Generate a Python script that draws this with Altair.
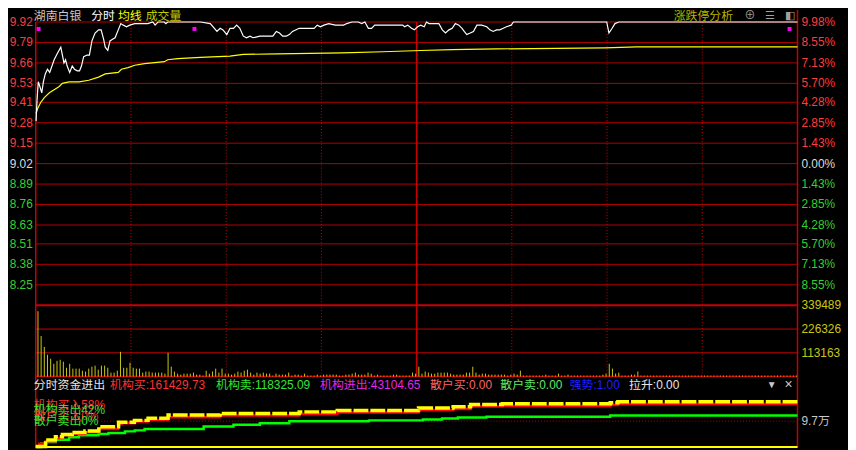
import altair as alt
import pandas as pd

FONT = "Liberation Sans, Noto Sans CJK SC, sans-serif"

# ---------------- data ----------------
PREV_CLOSE = 9.02

PRICE_T = [0.1, 0.4, 0.8, 1.3, 1.9, 2.4, 3.0, 3.7, 4.4, 5.8, 6.8, 7.9, 8.4, 8.9, 9.4, 9.9, 10.7, 11.5,
           12.2, 13.1, 13.8, 14.4, 15.1, 16.2, 16.9, 17.7, 18.7, 19.8, 20.6, 21.4, 21.9, 22.7, 23.4,
           24.2, 25.0, 26.0, 26.8, 27.6, 28.6, 29.6, 31.2, 34.3, 35.3, 36.9, 37.6, 38.5, 40.5, 41.0,
           41.6, 51.9, 55.0, 57.1, 58.1, 59.0, 60.2, 61.2, 62.3, 63.3, 64.3, 65.4, 66.4, 67.5, 68.5,
           70.6, 72.6, 74.7, 75.8, 76.8, 77.8, 78.9, 79.9, 80.9, 83.0, 84.6, 87.7, 88.7, 89.7, 90.8,
           92.3, 94.4, 97.0, 98.0, 99.6, 101.6, 102.7, 103.7, 104.8, 105.8, 106.8, 109.0, 112.0,
           113.1, 115.6, 116.2, 117.2, 118.4, 119.3, 120.3, 121.3, 122.4, 123.1, 123.9, 127.0, 128.1,
           129.1, 130.2, 131.2, 132.2, 133.3, 134.3, 135.0, 135.8, 136.9, 137.9, 139.0, 140.5, 142.1,
           143.1, 144.1, 145.2, 146.2, 147.3, 148.3, 149.8, 150.5, 179.9, 180.6, 181.6, 182.5, 183.7,
           240.0]
PRICE_V = [9.29, 9.42, 9.54, 9.51, 9.47, 9.54, 9.59, 9.62, 9.60, 9.68, 9.72, 9.76, 9.71, 9.66, 9.68,
           9.64, 9.60, 9.64, 9.62, 9.61, 9.61, 9.64, 9.70, 9.71, 9.71, 9.80, 9.85, 9.87, 9.87, 9.81,
           9.76, 9.74, 9.80, 9.81, 9.82, 9.87, 9.91, 9.90, 9.89, 9.90, 9.91, 9.91, 9.91, 9.92, 9.90,
           9.92, 9.92, 9.91, 9.92, 9.92, 9.91, 9.86, 9.88, 9.87, 9.84, 9.88, 9.88, 9.90, 9.88, 9.83,
           9.82, 9.83, 9.82, 9.83, 9.83, 9.83, 9.86, 9.85, 9.83, 9.83, 9.84, 9.86, 9.88, 9.88, 9.88,
           9.90, 9.89, 9.90, 9.91, 9.90, 9.90, 9.91, 9.92, 9.92, 9.91, 9.92, 9.88, 9.88, 9.90, 9.90,
           9.90, 9.90, 9.90, 9.89, 9.90, 9.88, 9.87, 9.89, 9.90, 9.89, 9.92, 9.91, 9.91, 9.87, 9.85,
           9.87, 9.88, 9.91, 9.90, 9.88, 9.86, 9.84, 9.85, 9.86, 9.90, 9.90, 9.89, 9.87, 9.86, 9.87,
           9.87, 9.88, 9.89, 9.90, 9.92, 9.92, 9.85, 9.88, 9.91, 9.92, 9.92]

AVG_T = [0.1, 0.6, 1.6, 2.7, 4.3, 5.8, 7.4, 8.4, 10.5, 13.6, 16.7, 19.8, 21.9, 26.0, 27.0, 29.1, 31.2,
         34.3, 37.4, 40.5, 41.6, 44.7, 51.9, 61.2, 65.4, 76.3, 96.5, 109.4, 121.3, 131.2, 145.2,
         179.4, 189.2, 240.0]
AVG_V = [9.34, 9.37, 9.41, 9.44, 9.47, 9.49, 9.51, 9.53, 9.54, 9.54, 9.55, 9.57, 9.59, 9.60, 9.62,
         9.63, 9.645, 9.656, 9.662, 9.668, 9.68, 9.687, 9.695, 9.703, 9.714, 9.718, 9.724, 9.731,
         9.739, 9.745, 9.749, 9.756, 9.762, 9.762]

VOLUME = [311000, 193000, 141000, 104000, 85000, 61000, 75000, 80000, 71000, 42000,
          61000, 38000, 38000, 38000, 28000, 24000, 38000, 47000, 52000, 33000,
          52000, 52000, 42000, 19000, 19000, 28000, 118000, 42000, 42000, 66000,
          42000, 38000, 38000, 19000, 24000, 24000, 19000, 19000, 19000, 19000,
          14000, 113000, 47000, 24000, 14000, 9400, 14000, 14000, 14000, 19000,
          9400, 9400, 4700, 28000, 14000, 24000, 38000, 19000, 38000, 14000,
          14000, 9400, 14000, 24000, 19000, 28000, 33000, 19000, 9400, 19000,
          14000, 19000, 14000, 14000, 4700, 14000, 9400, 9400, 9400, 19000,
          4700, 9400, 9400, 4700, 14000, 4700, 4700, 4700, 9400, 4700,
          9400, 9400, 9400, 9400, 9400, 4700, 4700, 9400, 9400, 14000,
          19000, 9400, 9400, 9400, 19000, 14000, 4700, 9400, 4700, 4700,
          4700, 4700, 9400, 9400, 4700, 4700, 4700, 4700, 19000, 14000,
          47000, 14000, 24000, 19000, 14000, 14000, 19000, 19000, 19000, 19000,
          14000, 9400, 9400, 9400, 9400, 19000, 19000, 47000, 19000, 9400,
          14000, 14000, 9400, 9400, 9400, 9400, 9400, 9400, 4700, 9400,
          14000, 9400, 28000, 4700, 4700, 4700, 4700, 4700, 4700, 4700,
          9400, 4700, 4700, 4700, 14000, 4700, 4700, 9400, 4700, 4700,
          4700, 4700, 4700, 4700, 4700, 4700, 4700, 4700, 9400, 14000,
          61000, 38000, 14000, 19000, 4700, 4700, 4700, 9400, 9400, 24000,
          4700, 4700, 4700, 4700, 4700, 4700, 4700, 4700, 4700, 4700,
          4700, 4700, 4700, 4700, 4700, 4700, 4700, 4700, 4700, 4700,
          4700, 4700, 4700, 4700, 4700, 4700, 4700, 4700, 4700, 4700,
          4700, 4700, 4700, 4700, 4700, 4700, 4700, 4700, 4700, 4700,
          4700, 4700, 4700, 4700, 4700, 4700, 4700, 4700, 4700, 4700]

GREEN_T = [0, 1.7, 3.2, 6.3, 10.5, 13.6, 19.8, 22.9, 28.1, 31.2, 34.3, 52.9, 62.3, 70.6, 79.9, 105,
           122, 128, 133, 142, 181, 240]
GREEN_V = [0, 12300, 18650, 27200, 36200, 43650, 48500, 52250, 58600, 62300, 67150, 77250, 83200,
           89550, 97000, 100000, 103500, 107000, 110500, 114000, 118325, 118325]
RED_T = [0, 1.1, 3.2, 6.3, 8.4, 11.5, 15.6, 19.8, 26, 27, 31.2, 35.3, 41.6, 58.1, 83, 95, 120.6,
         131.5, 137, 147, 181, 183.4, 240]
RED_V = [0, 12300, 21250, 33600, 43650, 48500, 54850, 67150, 85800, 89550, 95900, 101850, 111900,
         118300, 124250, 129450, 139150, 142900, 151850, 154100, 157800, 161430, 161430]
YEL_T = [0, 3.1, 6.2, 8.4, 11.5, 15.5, 19.9, 26.1, 31.1, 35.4, 41.7, 58.1, 83, 95, 120.6, 131.5,
         137, 147, 181, 183.4, 240]
YEL_V = [2000, 26000, 38000, 47000, 54000, 60000, 76000, 93000, 100000, 108000, 120000, 126000,
         132000, 137000, 147000, 151000, 160000, 163000, 166000, 170000, 170000]

PRICE_TICKS = [9.92, 9.79, 9.66, 9.53, 9.41, 9.28, 9.15, 9.02, 8.89, 8.76, 8.63, 8.51, 8.38, 8.25]
PCT_LABELS = ["9.98%", "8.55%", "7.13%", "5.70%", "4.28%", "2.85%", "1.43%", "0.00%",
              "1.43%", "2.85%", "4.28%", "5.70%", "7.13%", "8.55%"]
VOL_TICKS = [339489, 226326, 113163]
VOL_GRID = [339489, 226326, 113163, 0]
FUND_TICK = [97000]
FUND_LABEL = ["9.7万"]
HALF_HOURS = [30, 60, 90, 150, 180, 210]
MIDDAY = [120]
MARK_T = [0.9, 50, 237.5]
MARK_P = [9.876, 9.876, 9.876]

FUND_HEADER = ["分时资金进出", "机构买:161429.73", "机构卖:118325.09", "机构进出:43104.65",
               "散户买:0.00", "散户卖:0.00", "强势:1.00", "拉升:0.00"]
FUND_LEGEND = ["机构买入58%", "机构卖出42%", "散户买入0%", "散户卖出0%"]

# ---------------- layout ----------------
PLOT_LEFT = 36          # page x of the plot's left edge (8px page margin + padding)
W, H = 769, 430
RED_TXT, WHITE_TXT, GREEN_TXT = "#ff3c3c", "#dcdcdc", "#32d232"
GRID = "#b40000"

X = alt.Scale(domain=[0, 240], nice=False, zero=False)
PY = alt.Scale(domain=[8.1198, 9.9202], range=[286, 0], nice=False, zero=False)
VY = alt.Scale(domain=[0, 339489], range=[358, 286], nice=False, zero=False)
FY = alt.Scale(domain=[0, 97000], range=[429, 403], nice=False, zero=False)


def xq(f):
    return alt.X(f, type="quantitative", scale=X, axis=None)


def yq(f, s):
    return alt.Y(f, type="quantitative", scale=s, axis=None)


layers = []

# price grid
gdf = pd.DataFrame({"p": PRICE_TICKS, "a": 0, "b": 240})
layers.append(alt.Chart(gdf).mark_rule(color=GRID, strokeWidth=1).encode(
    x=xq("a"), x2="b", y=yq("p", PY)))

# volume grid
vg = pd.DataFrame({"v": VOL_GRID, "a": 0, "b": 240, "w": [2, 1, 1, 1.5]})
layers.append(alt.Chart(vg).mark_rule(color="#c80000").encode(
    x=xq("a"), x2="b", y=yq("v", VY), strokeWidth=alt.StrokeWidth("w:Q", scale=None)))

# vertical grid
layers.append(alt.Chart(pd.DataFrame({"t": HALF_HOURS})).mark_rule(
    color="#c80000", strokeDash=[1, 2], strokeWidth=1).encode(
    x=xq("t"), y=alt.value(0), y2=alt.value(358)))
layers.append(alt.Chart(pd.DataFrame({"t": MIDDAY})).mark_rule(
    color="#c80000", strokeWidth=1.5).encode(x=xq("t"), y=alt.value(0), y2=alt.value(358)))
layers.append(alt.Chart(pd.DataFrame({"t": [0]})).mark_rule(
    color="#c80000", strokeWidth=1.5).encode(x=xq("t"), y=alt.value(0), y2=alt.value(430)))
layers.append(alt.Chart(pd.DataFrame({"t": [240]})).mark_rule(
    color="#c80000", strokeWidth=1.5).encode(x=xq("t"), y=alt.value(-12), y2=alt.value(430)))

# fund panel guide lines
layers.append(alt.Chart(pd.DataFrame({"v": FUND_TICK, "a": 0, "b": 240})).mark_rule(
    color="#b40000", strokeDash=[1, 2]).encode(x=xq("a"), x2="b", y=yq("v", FY)))
layers.append(alt.Chart(pd.DataFrame({"v": [0], "a": 0, "b": 240})).mark_rule(
    color="#ffff00", strokeWidth=2).encode(x=xq("a"), x2="b", y=yq("v", FY)))

# volume bars
vdf = pd.DataFrame({"t": [i + 0.7 for i in range(len(VOLUME))], "v": VOLUME, "z": 0})
layers.append(alt.Chart(vdf).mark_rule(color="#c8c814", strokeWidth=1).encode(
    x=xq("t"), y=yq("v", VY), y2="z"))

# price & average
layers.append(alt.Chart(pd.DataFrame({"t": AVG_T, "p": AVG_V})).mark_line(
    color="#ffff00", strokeWidth=1.2).encode(x=xq("t"), y=yq("p", PY)))
layers.append(alt.Chart(pd.DataFrame({"t": PRICE_T, "p": PRICE_V})).mark_line(
    color="#ffffff", strokeWidth=1.2).encode(x=xq("t"), y=yq("p", PY)))
layers.append(alt.Chart(pd.DataFrame({"t": MARK_T, "p": MARK_P})).mark_square(
    color="#ff00ff", size=16, opacity=1).encode(x=xq("t"), y=yq("p", PY)))

# fund flow lines
layers.append(alt.Chart(pd.DataFrame({"t": GREEN_T, "v": GREEN_V})).mark_line(
    color="#00ff00", strokeWidth=2.5, interpolate="step-after").encode(x=xq("t"), y=yq("v", FY)))
layers.append(alt.Chart(pd.DataFrame({"t": RED_T, "v": RED_V})).mark_line(
    color="#ff0000", strokeWidth=2.5, interpolate="step-after").encode(x=xq("t"), y=yq("v", FY)))
layers.append(alt.Chart(pd.DataFrame({"t": YEL_T, "v": YEL_V})).mark_line(
    color="#ffff00", strokeWidth=3.5, strokeDash=[15, 2], interpolate="step-after").encode(
    x=xq("t"), y=yq("v", FY)))

# axis labels
RIGHT_X = 809 - PLOT_LEFT
cols = [RED_TXT if p > PREV_CLOSE else (WHITE_TXT if p == PREV_CLOSE else GREEN_TXT) for p in PRICE_TICKS]
ldf = pd.DataFrame({"p": PRICE_TICKS, "l": [f"{p:.2f}" for p in PRICE_TICKS], "r": PCT_LABELS, "c": cols})
layers.append(alt.Chart(ldf).mark_text(align="right", baseline="middle", font=FONT, fontSize=12).encode(
    x=alt.value(-3), y=yq("p", PY), text="l:N", color=alt.Color("c:N", scale=None)))
layers.append(alt.Chart(ldf).mark_text(align="left", baseline="middle", font=FONT, fontSize=12).encode(
    x=alt.value(RIGHT_X), y=yq("p", PY), text="r:N", color=alt.Color("c:N", scale=None)))
layers.append(alt.Chart(pd.DataFrame({"v": VOL_TICKS, "l": [str(v) for v in VOL_TICKS]})).mark_text(
    align="left", baseline="middle", font=FONT, fontSize=12, color="#c8c814").encode(
    x=alt.value(RIGHT_X), y=yq("v", VY), text="l:N"))
layers.append(alt.Chart(pd.DataFrame({"v": FUND_TICK, "l": FUND_LABEL})).mark_text(
    align="left", baseline="middle", font=FONT, fontSize=12, color="#c8c8c8").encode(
    x=alt.value(RIGHT_X), y=yq("v", FY), text="l:N"))


def label(text, page_x, y, color, size=12, align="left"):
    return alt.Chart(pd.DataFrame({"s": [text]})).mark_text(
        align=align, baseline="middle", font=FONT, fontSize=size, color=color).encode(
        text="s:N", x=alt.value(page_x - PLOT_LEFT), y=alt.value(y))


# top header
layers += [
    label("湖南白银", 34, -6, "#c8c8c8", 12),
    label("分时", 92, -6, "#ffffff", 12),
    label("均线", 119, -6, "#ffff00", 12),
    label("成交量", 147, -6, "#c8c800", 12),
    label("涨跌停分析", 680, -6, "#b4b400", 12),
    label("⊕", 757, -6, "#a0a0a0", 11, "center"),
    label("☰", 777, -6, "#a0a0a0", 11, "center"),
    label("◧", 797, -6, "#a0a0a0", 11, "center"),
]

# fund header
hx = [34, 111, 218, 323, 434, 505, 575, 635]
hc = ["#e6e6e6", "#ff3232", "#32e632", "#e628e6", "#ff6464", "#64e664", "#1e1eff", "#e6e6e6"]
for t, x, c in zip(FUND_HEADER, hx, hc):
    layers.append(label(t, x, 367, c, 12))
layers.append(label("▼", 779, 367, "#c8c8c8", 10, "center"))
layers.append(label("×", 796, 367, "#c8c8c8", 14, "center"))

# fund legend (overlapping, as in the terminal)
for t, y, c in zip(FUND_LEGEND, [387, 392, 398, 403], ["#ff3232", "#32e632", "#ff3232", "#32e632"]):
    layers.append(label(t, 34, y, c, 12))

chart = alt.layer(*layers).resolve_scale(y="independent").properties(
    width=W, height=H,
    autosize=alt.AutoSizeParams(type="none"),
    padding={"left": PLOT_LEFT - 8, "top": 12, "right": 856 - 8 - (PLOT_LEFT - 8) - W - 0, "bottom": 0},
    background="#000000",
).configure_view(strokeWidth=0)

chart.save("out.html", embed_options={"renderer": "svg", "actions": False})
